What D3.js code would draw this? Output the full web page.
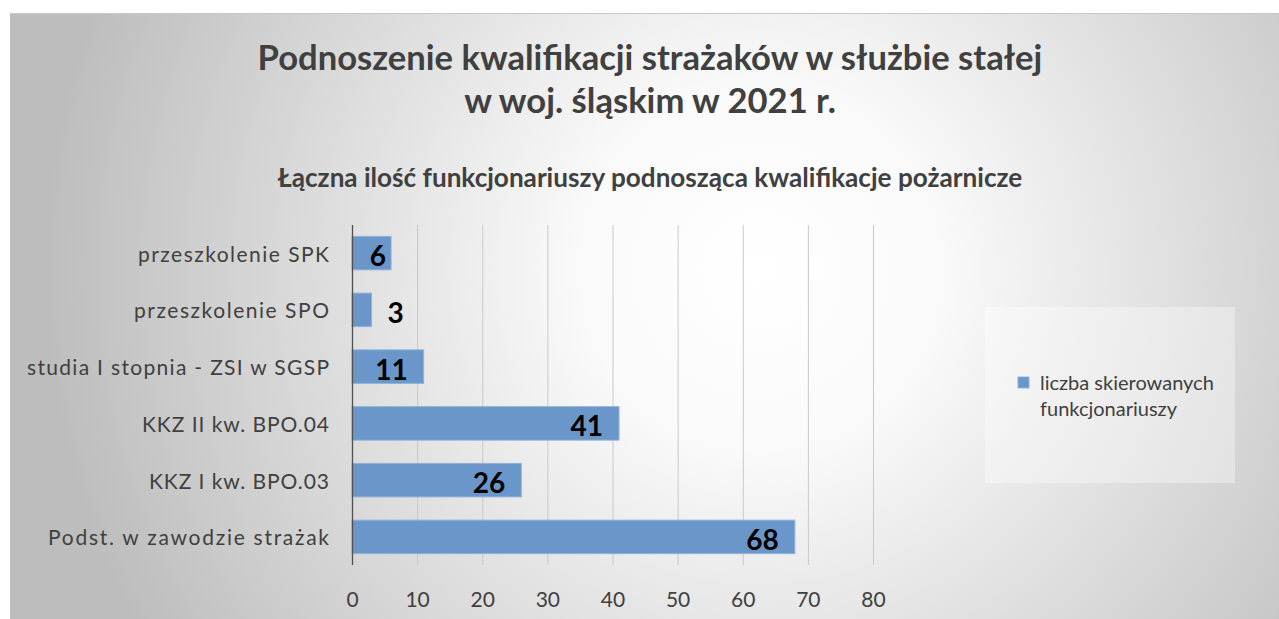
<!DOCTYPE html>
<html><head><meta charset="utf-8">
<script src="https://cdn.jsdelivr.net/npm/d3@7"></script>
<style>body{margin:0;background:#fff;overflow:hidden}text{font-family:Lato,"Open Sans",sans-serif}</style>
</head><body><svg id="c" width="1279" height="619"></svg>
<script>
const categories = ["przeszkolenie SPK","przeszkolenie SPO","studia I stopnia - ZSI w SGSP","KKZ II kw. BPO.04","KKZ I kw. BPO.03","Podst. w zawodzie strażak"];
const values = [6,3,11,41,26,68];
const xTicks = [0,10,20,30,40,50,60,70,80];
const seriesName = ["liczba skierowanych","funkcjonariuszy"];
const titleLines = ["Podnoszenie kwalifikacji strażaków w służbie stałej","w woj. śląskim w 2021 r."];
const subtitle = "Łączna ilość funkcjonariuszy podnosząca kwalifikacje pożarnicze";
// measured label widths in the reference (for letter spacing fit)
const catLabelWidths = [191,195,302,187,180,281];

const svg = d3.select("#c");
const defs = svg.append("defs");
const rg = defs.append("radialGradient").attr("id","bg").attr("gradientUnits","userSpaceOnUse")
  .attr("cx",760).attr("cy",270).attr("r",720);
rg.append("stop").attr("offset","0").attr("stop-color","#ffffff");
rg.append("stop").attr("offset","0.25").attr("stop-color","#fafafa");
rg.append("stop").attr("offset","1").attr("stop-color","#bdbdbd");
svg.append("rect").attr("x",10).attr("y",13).attr("width",1269).attr("height",606).attr("fill","url(#bg)");
svg.append("line").attr("x1",10).attr("x2",1279).attr("y1",13.5).attr("y2",13.5).attr("stroke","#c8c8c8");

function fitText(sel, w){ const l = sel.node().getComputedTextLength(); const fs = parseFloat(sel.attr("font-size")); sel.attr("font-size", fs*w/l); }

const t1 = svg.append("text").attr("x",650).attr("y",70).attr("text-anchor","middle").attr("font-weight","bold").attr("font-size",32).attr("fill","#404040").text(titleLines[0]);
fitText(t1, 785);
const t2 = svg.append("text").attr("x",650).attr("y",113).attr("text-anchor","middle").attr("font-weight","bold").attr("font-size",t1.attr("font-size")).attr("fill","#404040").text(titleLines[1]);
const st = svg.append("text").attr("x",650).attr("y",187).attr("text-anchor","middle").attr("font-weight","bold").attr("font-size",20).attr("fill","#404040").text(subtitle);
fitText(st, 745);

const x = d3.scaleLinear().domain([0,80]).range([352,873]);
const y = d3.scaleBand().domain(categories).range([225,565]).paddingInner(0.41).paddingOuter(0.2);

const g = svg.append("g");
g.selectAll("line.grid").data(xTicks.slice(1)).join("line").attr("class","grid")
  .attr("x1",d=>x(d)+0.5).attr("x2",d=>x(d)+0.5).attr("y1",225).attr("y2",565).attr("stroke","#c9c9c9").attr("stroke-width",1);

g.selectAll("rect.bar").data(values).join("rect").attr("class","bar")
  .attr("x",x(0)).attr("y",(d,i)=>y(categories[i])).attr("width",d=>x(d)-x(0)).attr("height",y.bandwidth())
  .attr("fill","#6a96c9").attr("stroke","#8fb2da").attr("stroke-width",1);

g.append("line").attr("x1",x(0)+0.5).attr("x2",x(0)+0.5).attr("y1",225).attr("y2",565).attr("stroke","#505050").attr("stroke-width",1.3);

const xAxis = d3.axisBottom(x).tickValues(xTicks).tickSize(0).tickPadding(0);
const ax = svg.append("g").attr("transform","translate(0,600)").call(xAxis);
ax.select(".domain").remove();
ax.selectAll("text").attr("font-size",21).attr("fill","#404040").attr("dy","0.35em").style("font-family","Lato,'Open Sans',sans-serif");

const yAxis = d3.axisLeft(y).tickSize(0).tickPadding(0);
const ay = svg.append("g").attr("transform","translate(329,0)").call(yAxis);
ay.select(".domain").remove();
ay.selectAll("text").attr("font-size",21).attr("fill","#404040").attr("dy","0.4em").style("font-family","Lato,'Open Sans',sans-serif")
  .attr("textLength",(d,i)=>catLabelWidths[i]).attr("lengthAdjust","spacing");

g.selectAll("text.lbl").data(values).join("text").attr("class","lbl")
  .attr("x",d=> d<5 ? x(d)+16 : Math.max(x(d)-16, x(0)+34))
  .attr("text-anchor",d=> d<5 ? "start":"end")
  .attr("y",(d,i)=>y(categories[i])+y.bandwidth()/2+3).attr("dy","0.36em")
  .attr("font-weight","bold").attr("font-size",28).attr("fill","#000").text(d=>d);

const lg = svg.append("g");
lg.append("rect").attr("x",985).attr("y",307).attr("width",250).attr("height",176).attr("fill","#ffffff").attr("fill-opacity",0.35);
lg.append("rect").attr("x",1018).attr("y",377).attr("width",11).attr("height",11).attr("fill","#6a96c9").attr("stroke","#8fb2da");
lg.selectAll("text").data(seriesName).join("text").attr("x",1040).attr("y",(d,i)=>390+i*26)
  .attr("font-size",20).attr("fill","#404040").text(d=>d);
</script></body></html>
